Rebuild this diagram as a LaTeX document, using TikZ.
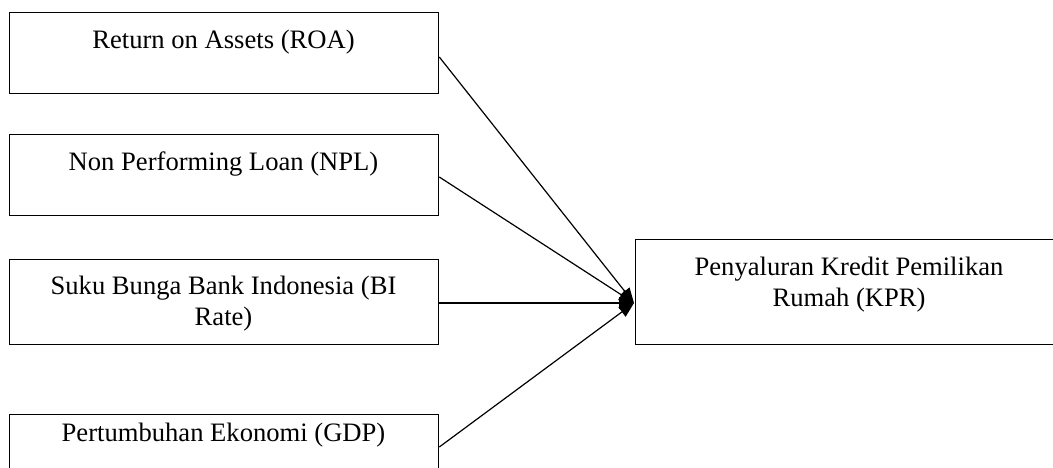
\documentclass[tikz,border=0pt]{standalone}
\usepackage{fontspec}
\setmainfont{Liberation Serif}
\usetikzlibrary{arrows.meta,calc}
\tikzset{
  box/.style={draw, line width=1.3pt, inner sep=0pt, anchor=north west},
  lbl/.style={font=\fontsize{26.6}{31}\selectfont, inner sep=0pt, align=center},
  conn/.style={line width=1.2pt, -{Triangle[length=15pt,width=12pt]}}
}
\begin{document}
\begin{tikzpicture}[x=1pt,y=-1pt]
\clip (0,0) rectangle (1053,468);
\node[box, minimum width=429pt, minimum height=81pt] (b1) at (9,12) {};
\node[box, minimum width=429pt, minimum height=81pt] (b2) at (9,134) {};
\node[box, minimum width=429pt, minimum height=85pt] (b3) at (9,259) {};
\node[box, minimum width=429pt, minimum height=81pt] (b4) at (9,414) {};
\node[box, minimum width=428pt, minimum height=105pt] (k) at (635,239) {};
\node[lbl, anchor=base] (t1) at (223.5,49) {Return on Assets (ROA)};
\node[lbl, anchor=base] (t2) at (223.5,171) {Non Performing Loan (NPL)};
\node[lbl, anchor=base] (t3) at (223.5,325) {Suku Bunga Bank Indonesia (BI\\Rate)};
\node[lbl, anchor=base] (t4) at (223.5,441) {Pertumbuhan Ekonomi (GDP)};
\node[lbl, anchor=base] (tk) at (849,306.5) {Penyaluran Kredit Pemilikan\\Rumah (KPR)};
\coordinate (tgt) at ($(k.north west)+(-1,64)$);
\draw[conn] ($(b1.north east)+(0,45)$) -- (tgt);
\draw[conn] ($(b2.north east)+(0,43)$) -- (tgt);
\draw[conn] ($(b3.north east)+(0,44)$) -- (tgt);
\draw[conn] ($(b4.north east)+(0,33)$) -- (tgt);
\end{tikzpicture}
\end{document}
